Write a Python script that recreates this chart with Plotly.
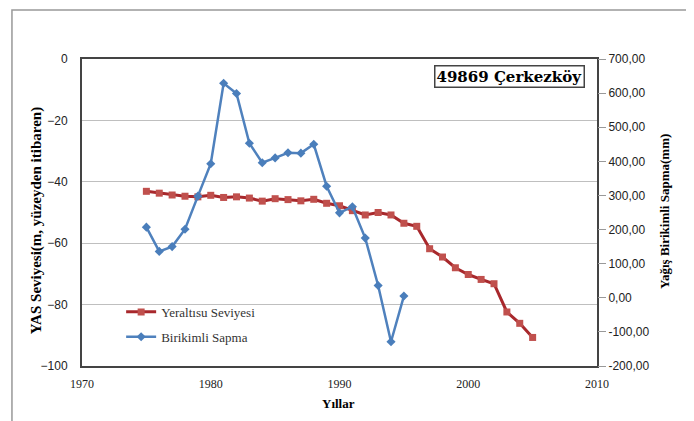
import plotly.graph_objects as go

years_yas = list(range(1975, 2006))
yas = [-43.1, -43.7, -44.3, -44.7, -44.9, -44.4, -45.1, -44.9, -45.3, -46.3,
       -45.5, -45.8, -46.2, -45.7, -47.0, -47.8, -49.4, -50.8, -50.0, -50.8,
       -53.5, -54.5, -61.8, -64.5, -68.0, -70.2, -71.8, -73.2, -82.4, -86.1, -90.7]

years_sapma = list(range(1975, 1996))
sapma = [207, 136, 150, 201, 298, 393, 629, 599, 453, 396, 410, 425, 424, 450,
         327, 249, 267, 175, 36, -129, 5]

left_ticks = [0, -20, -40, -60, -80, -100]
right_ticks = [700, 600, 500, 400, 300, 200, 100, 0, -100, -200]
right_labels = ["700,00", "600,00", "500,00", "400,00", "300,00", "200,00",
                "100,00", "0,00", "-100,00", "-200,00"]
x_ticks = [1970, 1980, 1990, 2000, 2010]

title_text = "49869 Çerkezköy"
serif = "Liberation Serif"
sans = "Liberation Sans"

fig = go.Figure()
fig.add_trace(go.Scatter(
    x=years_yas, y=yas, name="Yeraltısu Seviyesi", mode="lines+markers",
    legendgroup="a",
    line=dict(color="#A8282C", width=3),
    marker=dict(symbol="square", size=7, color="#C0504D"),
    yaxis="y"))
fig.add_trace(go.Scatter(
    x=years_sapma, y=sapma, name="Birikimli Sapma", mode="lines+markers",
    legendgroup="b",
    line=dict(color="#4F81BD", width=2.5),
    marker=dict(symbol="diamond", size=7, color="#4A7EBB"),
    yaxis="y2"))

fig.update_layout(
    width=694, height=421,
    margin=dict(l=74, r=105, t=51, b=63),
    paper_bgcolor="white", plot_bgcolor="white",
    showlegend=True,
    legend=dict(x=0.076, y=0.225, xanchor="left", yanchor="top",
                font=dict(family=serif, size=13, color="#333333"),
                bgcolor="rgba(0,0,0,0)", traceorder="grouped", tracegroupgap=5),
    xaxis=dict(range=[1970, 2010], tickvals=x_ticks, showgrid=False,
               showline=True, mirror=True, linecolor="#444444", linewidth=2,
               zeroline=False, ticks="outside", ticklen=6,
               tickcolor="rgba(0,0,0,0)",
               tickfont=dict(family=serif, size=12, color="#222222")),
    yaxis=dict(range=[-100, 0], tickvals=left_ticks, showgrid=True,
               gridcolor="#BFBFBF", gridwidth=1.3,
               showline=True, mirror=True, linecolor="#444444", linewidth=2,
               zeroline=False, ticks="outside", ticklen=10,
               tickcolor="rgba(0,0,0,0)",
               tickfont=dict(family=sans, size=12, color="#222222")),
    yaxis2=dict(range=[-200, 700], tickvals=right_ticks, ticktext=right_labels,
                overlaying="y", side="right", showgrid=False, zeroline=False,
                ticks="outside", ticklen=8, tickcolor="#999999",
                tickfont=dict(family=sans, size=12, color="#222222")),
)

fig.add_annotation(text="<b>" + title_text + "</b>", xref="paper", yref="paper",
                   x=0.831, y=0.943, xanchor="center", yanchor="middle",
                   showarrow=False,
                   font=dict(family="DejaVu Serif", size=15, color="black"),
                   bordercolor="#444444", borderwidth=1.5, borderpad=1,
                   bgcolor="white")
fig.add_annotation(text="<b>YAS Seviyesi(m, yüzeyden itibaren)</b>", xref="paper",
                   yref="paper", x=-0.089, y=0.475, xanchor="center",
                   yanchor="middle", textangle=-90, showarrow=False,
                   font=dict(family=serif, size=15, color="black"))
fig.add_annotation(text="<b>Yağış Birikimli Sapma(mm)</b>", xref="paper",
                   yref="paper", x=1.132, y=0.505, xanchor="center",
                   yanchor="middle", textangle=-90, showarrow=False,
                   font=dict(family=serif, size=13, color="black"))
fig.add_annotation(text="<b>Yıllar</b>", xref="paper", yref="paper",
                   x=0.499, y=-0.121, xanchor="center", yanchor="middle",
                   showarrow=False,
                   font=dict(family=serif, size=13, color="black"))

fig.add_shape(type="rect", xref="paper", yref="paper",
              x0=-0.136, x1=1.1786, y0=-0.4, y1=1.16,
              line=dict(color="#999999", width=1.5), layer="above")

fig.write_html("out.html")
